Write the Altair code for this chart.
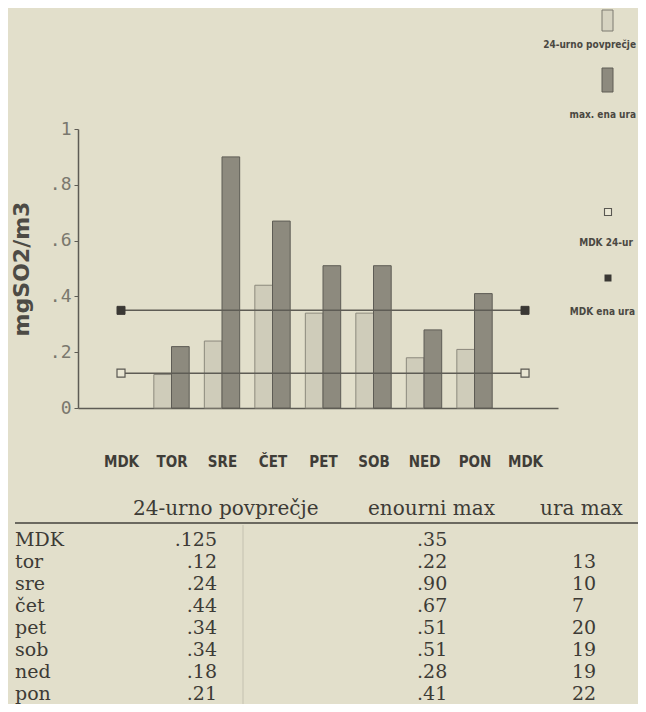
import altair as alt
import pandas as pd

# ---------------- data ----------------
days = ["TOR", "SRE", "ČET", "PET", "SOB", "NED", "PON"]
axis_labels = ["MDK"] + days + ["MDK"]
avg_24h = [0.12, 0.24, 0.44, 0.34, 0.34, 0.18, 0.21]
max_1h = [0.22, 0.90, 0.67, 0.51, 0.51, 0.28, 0.41]
hour_of_max = [13, 10, 7, 20, 19, 19, 22]
mdk_24h = 0.125
mdk_1h = 0.35
row_names = ["MDK", "tor", "sre", "čet", "pet", "sob", "ned", "pon"]
headers = ["24-urno povprečje", "enourni max", "ura max"]
series_names = ["24-urno povprečje", "max. ena ura"]
limit_names = ["MDK 24-ur", "MDK ena ura"]
y_label = "mgSO2/m3"
y_ticks = [0, 0.2, 0.4, 0.6, 0.8, 1.0]

# ---------------- styles ----------------
BG = "#e2dfcb"
DARK = "#4a4842"
LIGHT_FILL = "#cfccba"
LIGHT_STROKE = "#8b887c"
HATCH_FILL = "#8d8a7e"
HATCH_STROKE = "#5e5c55"
LINE = "#5e5c55"
NARROW = "Liberation Sans Narrow, DejaVu Sans Condensed, sans-serif"
SERIF = "DejaVu Serif, Liberation Serif, serif"

# ---------------- tables for the library ----------------
bar_rows = []
for k, d in enumerate(days):
    bar_rows.append({"pos": k + 1, "day": d, "series": "avg", "value": avg_24h[k]})
    bar_rows.append({"pos": k + 1, "day": d, "series": "max", "value": max_1h[k]})
bars_df = pd.DataFrame(bar_rows)

last = len(axis_labels) - 1
limits_df = pd.DataFrame({
    "kind": ["24h", "1h"],
    "value": [mdk_24h, mdk_1h],
    "start": [0, 0],
    "end": [last, last],
})
marker_df = pd.DataFrame({
    "kind": ["24h", "24h", "1h", "1h"],
    "value": [mdk_24h, mdk_24h, mdk_1h, mdk_1h],
    "pos": [0, last, 0, last],
})


def fmt(v, d=2):
    return f"{v:.{d}f}".lstrip("0")


table_df = pd.DataFrame({
    "name": row_names,
    "c1": [fmt(mdk_24h, 3)] + [fmt(v) for v in avg_24h],
    "c2": [fmt(mdk_1h)] + [fmt(v) for v in max_1h],
    "c3": [""] + [str(h) for h in hour_of_max],
})
one = pd.DataFrame({"k": [0]})

# ---------------- scales / axes ----------------
xscale = alt.Scale(domain=[-0.8515, 8.653], nice=False, zero=False)
yscale = alt.Scale(domain=[0, 1], nice=False)

label_arr = "[" + ",".join("'" + s + "'" for s in axis_labels) + "]"
xaxis = alt.Axis(
    values=list(range(len(axis_labels))),
    labelExpr=label_arr + "[datum.value]",
    title=None, grid=False, ticks=False,
    domain=True, domainColor=LINE, domainWidth=1.5,
    labelPadding=46, labelFont=NARROW, labelFontSize=15, labelFontWeight="bold",
    labelColor="#3f3d38", labelOverlap=False, labelFlush=False,
)
yaxis = alt.Axis(
    values=y_ticks,
    labelExpr="datum.value == 0 ? '0' : datum.value == 1 ? '1' : replace(format(datum.value, '.1f'), '0.', '.')",
    title=y_label, titleFont="DejaVu Sans", titleFontSize=22, titleFontWeight="bold",
    titleColor="#4d4b45", titleAngle=270, titleX=-57, titleY=139.5,
    titleAlign="center", titleBaseline="middle",
    grid=False, domain=True, domainColor=LINE, domainWidth=1.5,
    tickSize=4, tickColor=LINE, labelPadding=3,
    labelFont="DejaVu Sans Mono", labelFontSize=18, labelColor="#7a786e",
)

# ---------------- main plot ----------------
light = (
    alt.Chart(bars_df)
    .transform_filter(alt.datum.series == "avg")
    .transform_calculate(x0="datum.pos - 0.35", x1="datum.pos", base="0")
    .mark_rect(fill=LIGHT_FILL, stroke=LIGHT_STROKE, strokeWidth=1)
    .encode(
        x=alt.X("x0:Q", scale=xscale, axis=xaxis),
        x2="x1:Q",
        y=alt.Y("value:Q", scale=yscale, axis=yaxis),
        y2="base:Q",
    )
)
hatched = (
    alt.Chart(bars_df)
    .transform_filter(alt.datum.series == "max")
    .transform_calculate(x0="datum.pos", x1="datum.pos + 0.35", base="0")
    .mark_rect(fill=HATCH_FILL, stroke=HATCH_STROKE, strokeWidth=1)
    .encode(
        x=alt.X("x0:Q", scale=xscale, axis=xaxis),
        x2="x1:Q",
        y=alt.Y("value:Q", scale=yscale, axis=yaxis),
        y2="base:Q",
    )
)
lines = (
    alt.Chart(limits_df)
    .mark_rule(color=LINE, strokeWidth=1.5)
    .encode(
        x=alt.X("start:Q", scale=xscale, axis=xaxis),
        x2="end:Q",
        y=alt.Y("value:Q", scale=yscale, axis=yaxis),
    )
)
open_sq = (
    alt.Chart(marker_df)
    .transform_filter(alt.datum.kind == "24h")
    .mark_square(size=64, filled=True, fill="#e9e6d3", stroke="#5a5852", strokeWidth=1.2, opacity=1)
    .encode(
        x=alt.X("pos:Q", scale=xscale, axis=xaxis),
        y=alt.Y("value:Q", scale=yscale, axis=yaxis),
    )
)
full_sq = (
    alt.Chart(marker_df)
    .transform_filter(alt.datum.kind == "1h")
    .mark_square(size=64, filled=True, fill="#3a3834", stroke="#3a3834", strokeWidth=1, opacity=1)
    .encode(
        x=alt.X("pos:Q", scale=xscale, axis=xaxis),
        y=alt.Y("value:Q", scale=yscale, axis=yaxis),
    )
)
main = alt.layer(light, hatched, lines, open_sq, full_sq)

# ---------------- legend (right side) ----------------
def leg_text(txt, xpx, ypx, align):
    return alt.Chart(one).mark_text(text=txt, align=align, baseline="middle",
                                    font=NARROW, fontSize=10, fontWeight="bold",
                                    color=DARK).encode(x=alt.value(xpx), y=alt.value(ypx))


leg_box1 = alt.Chart(one).mark_rect(fill="#d6d3c1", stroke="#7d7a70", strokeWidth=1).encode(
    x=alt.value(524), x2=alt.value(535), y=alt.value(-119), y2=alt.value(-98))
leg_box2 = alt.Chart(one).mark_rect(fill=HATCH_FILL, stroke=HATCH_STROKE, strokeWidth=1).encode(
    x=alt.value(524), x2=alt.value(535), y=alt.value(-61), y2=alt.value(-37))
leg_sq3 = alt.Chart(one).mark_square(size=49, filled=True, fill="#ebe8d6", stroke="#5a5852",
                                     strokeWidth=1.1, opacity=1).encode(
    x=alt.value(530), y=alt.value(83))
leg_sq4 = alt.Chart(one).mark_square(size=49, filled=True, fill="#3a3834", opacity=1).encode(
    x=alt.value(530), y=alt.value(149))
legend = alt.layer(
    leg_box1, leg_text(series_names[0], 558, -84, "right"),
    leg_box2, leg_text(series_names[1], 558, -14, "right"),
    leg_sq3, leg_text(limit_names[0], 528, 114, "center"),
    leg_sq4, leg_text(limit_names[1], 557, 183, "right"),
)

# ---------------- table below ----------------
hdr_x = [55, 290, 462]
hdrs = [
    alt.Chart(one).mark_text(text=h, align="left", baseline="middle", font=SERIF,
                             fontSize=20, color="#3d3b36").encode(x=alt.value(hx), y=alt.value(380))
    for h, hx in zip(headers, hdr_x)
]
hdr_rule = alt.Chart(one).mark_rule(color="#6b6960", strokeWidth=2).encode(
    x=alt.value(-63), x2=alt.value(570), y=alt.value(394))
vsep = alt.Chart(one).mark_rule(color="#c4c1b0", strokeWidth=1).encode(
    x=alt.value(165), y=alt.value(396), y2=alt.value(575))

rscale = alt.Scale(type="point", domain=row_names, range=[411, 565], padding=0)


def col(field, xpx, align):
    return alt.Chart(table_df).mark_text(
        align=align, baseline="middle", font=SERIF, fontSize=19, color="#3d3b36"
    ).encode(
        x=alt.value(xpx),
        y=alt.Y("name:N", scale=rscale, axis=None),
        text=f"{field}:N",
    )


table = alt.layer(
    col("name", -63, "left"),
    col("c1", 139, "right"),
    col("c2", 339, "left"),
    col("c3", 494, "left"),
)

chart = (
    alt.layer(main, legend, hdr_rule, vsep, *hdrs, table)
    .resolve_scale(x="independent", y="independent")
    .properties(
        width=480,
        height=279,
        autosize=alt.AutoSizeParams(type="none"),
        padding={"left": 70, "top": 121, "right": 80, "bottom": 296},
        background=BG,
    )
    .configure_view(stroke=None)
)

chart.save("out.html", embed_options={"renderer": "svg", "actions": False})
